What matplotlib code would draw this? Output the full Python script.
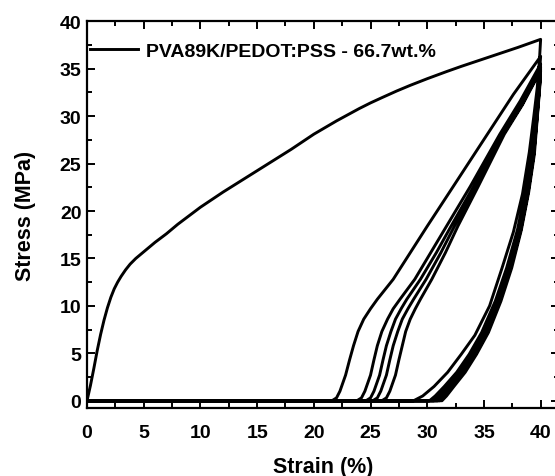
"""Cyclic tensile test of PVA89K/PEDOT:PSS (66.7 wt.%) film, strain-controlled to 40 %."""

import matplotlib

matplotlib.use("Agg")
import matplotlib.pyplot as plt
import numpy as np

LABEL = "PVA89K/PEDOT:PSS - 66.7wt.%"

# first loading ramp
load_strain = [0.0, 0.3, 0.6, 0.9, 1.2, 1.5, 1.8, 2.1, 2.4, 2.7, 3.0, 3.4, 3.8,
               4.3, 4.8, 5.4, 6.0, 7.0, 8.0, 9.0, 10.0, 12.0, 14.0, 16.0, 18.0,
               20.0, 21.0, 22.0, 23.0, 24.0, 25.0, 26.0, 27.3, 28.5, 30.0, 31.7,
               33.0, 34.0, 35.9, 38.0, 40.0]
load_stress = [0.0, 1.6, 3.4, 5.3, 7.0, 8.5, 9.8, 10.9, 11.8, 12.5, 13.1, 13.8, 14.4,
               15.0, 15.5, 16.1, 16.7, 17.6, 18.6, 19.5, 20.4, 22.0, 23.5, 25.0, 26.5,
               28.1, 28.8, 29.5, 30.15, 30.8, 31.4, 31.95, 32.65, 33.25, 33.95, 34.7,
               35.25, 35.65, 36.4, 37.25, 38.1]

# unloading branches (each ends on the slack baseline and returns to zero strain)
unload1_strain = [40.0, 39.9, 39.7, 39.4, 39.0, 38.4, 37.6, 36.6, 35.5, 34.2,
                  33.0, 31.8, 30.6, 29.6, 28.8, 0.0]
unload1_stress = [38.1, 36.0, 33.0, 30.0, 26.2, 21.8, 17.8, 14.0, 10.0, 6.9,
                  4.9, 3.0, 1.5, 0.5, 0.0, 0.0]

unload_levels = [33.0, 30.0, 26.0, 22.0, 18.0, 14.0, 10.5, 7.2, 4.9, 3.0, 1.5, 0.5, 0.0, 0.0]

unload2_strain = [40.0, 39.8, 39.55, 39.2, 38.65, 37.95, 37.0, 36.0, 34.8, 33.7,
                  32.6, 31.5, 30.7, 30.2, 0.0]
unload2_stress = [36.3] + unload_levels
unload3_strain = [40.0, 39.85, 39.6, 39.3, 38.75, 38.05, 37.15, 36.15, 35.0, 33.95,
                  32.85, 31.8, 31.05, 30.6, 0.0]
unload3_stress = [35.5] + unload_levels
unload4_strain = [40.0, 39.9, 39.65, 39.35, 38.8, 38.15, 37.25, 36.3, 35.15, 34.1,
                  33.05, 32.0, 31.3, 30.9, 0.0]
unload4_stress = [35.2] + unload_levels
unload5_strain = [40.0, 39.9, 39.7, 39.4, 38.9, 38.25, 37.35, 36.4, 35.3, 34.25,
                  33.2, 32.2, 31.5, 31.1, 0.0]
unload5_stress = [35.0] + unload_levels
unload6_strain = [40.0, 39.92, 39.72, 39.45, 38.95, 38.3, 37.45, 36.5, 35.4, 34.35,
                  33.35, 32.35, 31.7, 31.3, 0.0]
unload6_stress = [34.8] + unload_levels

# reloading branches: slack until the residual strain, then pick up load again
reload_levels = [0.0, 0.3, 1.0, 2.7, 4.3, 5.8, 7.3, 8.6, 9.7, 10.7, 12.8, 15.6,
                 18.4, 22.6, 28.1]

reload1_strain = [21.6, 22.0, 22.3, 22.8, 23.15, 23.5, 23.9, 24.4, 25.0, 25.6,
                  27.0, 28.5, 30.0, 32.3, 35.3, 37.6, 40.0]
reload1_stress = reload_levels + [32.3, 36.3]
reload2_strain = [23.8, 24.2, 24.5, 25.0, 25.3, 25.6, 26.0, 26.5, 27.0, 27.6,
                  28.9, 30.3, 31.7, 33.8, 36.4, 38.2, 40.0]
reload2_stress = reload_levels + [31.6, 35.5]
reload3_strain = [24.6, 25.0, 25.3, 25.8, 26.1, 26.4, 26.8, 27.2, 27.7, 28.2,
                  29.4, 30.8, 32.1, 34.1, 36.6, 38.3, 40.0]
reload3_stress = reload_levels + [31.4, 35.2]
reload4_strain = [25.2, 25.6, 25.9, 26.4, 26.7, 27.0, 27.4, 27.8, 28.3, 28.8,
                  29.9, 31.2, 32.4, 34.3, 36.7, 38.4, 40.0]
reload4_stress = reload_levels + [31.3, 35.0]
reload5_strain = [26.0, 26.4, 26.7, 27.2, 27.5, 27.8, 28.1, 28.5, 28.95, 29.4,
                  30.4, 31.6, 32.7, 34.5, 36.8, 38.4, 40.0]
reload5_stress = reload_levels + [31.2, 34.8]


def trace():
    segs = [
        (load_strain, load_stress),
        (unload1_strain, unload1_stress),
        ([0.0] + reload1_strain, [0.0] + reload1_stress),
        (unload2_strain, unload2_stress),
        ([0.0] + reload2_strain, [0.0] + reload2_stress),
        (unload3_strain, unload3_stress),
        ([0.0] + reload3_strain, [0.0] + reload3_stress),
        (unload4_strain, unload4_stress),
        ([0.0] + reload4_strain, [0.0] + reload4_stress),
        (unload5_strain, unload5_stress),
        ([0.0] + reload5_strain, [0.0] + reload5_stress),
        (unload6_strain, unload6_stress),
    ]
    x = np.concatenate([s[0] for s in segs])
    y = np.concatenate([s[1] for s in segs])
    return x, y


def main():
    plt.rcParams["font.family"] = "Liberation Sans"
    plt.rcParams["font.weight"] = "bold"

    fig = plt.figure(figsize=(5.55, 4.77), dpi=100)
    ax = fig.add_axes([0.1568, 0.1419, 0.850, 0.8113])

    x, y = trace()
    ax.plot(x, y, color="black", lw=2.1, solid_joinstyle="round", label=LABEL)

    ax.set_xlim(0, 41.6)
    ax.set_ylim(-0.8, 40)
    ax.set_xticks(np.arange(0, 41, 5))
    ax.set_yticks(np.arange(0, 41, 5))
    ax.set_xticks(np.arange(2.5, 41, 5), minor=True)
    ax.set_yticks(np.arange(2.5, 41, 5), minor=True)
    ax.tick_params(which="both", direction="in", top=True, right=True, width=1.4)
    ax.tick_params(which="major", length=6, labelsize=14)
    ax.tick_params(axis="x", which="major", pad=11)
    ax.tick_params(axis="y", which="major", pad=4)
    ax.tick_params(which="minor", length=3.5)
    for sp in ax.spines.values():
        sp.set_linewidth(1.6)

    ax.set_xlabel("Strain (%)", fontsize=15.5, fontweight="bold", labelpad=11)
    ax.set_ylabel("Stress (MPa)", fontsize=15.5, fontweight="bold", labelpad=17)

    ax.legend(loc="center left", bbox_to_anchor=(90.0 / 555, 1 - 52.0 / 477),
              bbox_transform=fig.transFigure, frameon=False, fontsize=14,
              handlelength=2.45, handletextpad=0.45, borderpad=0, borderaxespad=0)

    fig.savefig("out.png", dpi=100)
    plt.close(fig)


if __name__ == "__main__":
    main()
